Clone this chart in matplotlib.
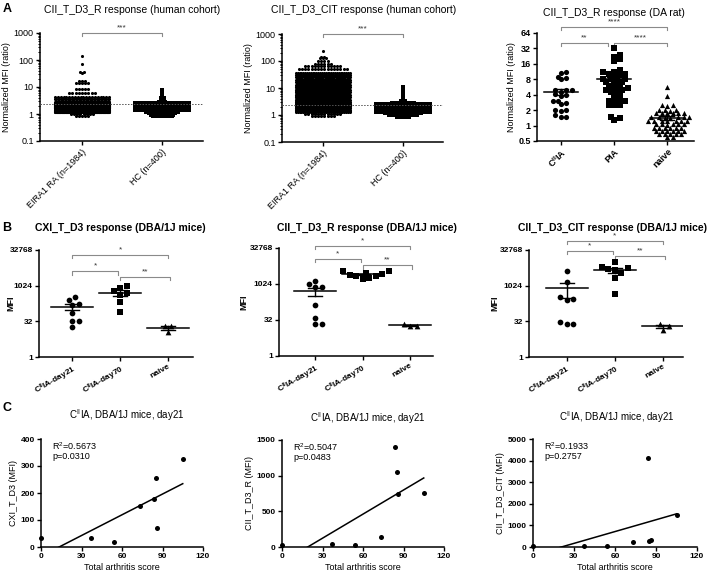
import numpy as np
import matplotlib
matplotlib.use('Agg')
import matplotlib.pyplot as plt
from matplotlib.ticker import NullLocator
from matplotlib.transforms import blended_transform_factory

plt.rcParams['font.family'] = ['Liberation Sans', 'DejaVu Sans']
plt.rcParams['mathtext.default'] = 'regular'

# ---- panel A, human cohort: each row = (value, number of points in that row)
a1_ra_vals = [140, 70, 36, 34, 16.6, 13.8, 8.7, 5.9, 4.4, 3.5, 2.8, 2.5, 2.2, 2.0, 1.8, 1.6, 1.45, 1.3, 1.2, 1.0, 0.85]
a1_ra_n = [1, 1, 2, 1, 3, 5, 5, 9, 20, 40, 100, 200, 264, 280, 280, 260, 200, 150, 150, 8, 5]
a1_hc_vals = [7.8, 7, 6, 5.2, 4.2, 3.8, 3.2, 2.9, 2.5, 2.2, 2.0, 1.8, 1.65, 1.5, 1.4, 1.2, 1.07, 0.95, 0.85]
a1_hc_n = [1, 1, 1, 1, 1, 2, 2, 3, 25, 50, 65, 65, 60, 50, 38, 11, 9, 8, 7]

a2_ra_vals = [235, 140, 125, 100, 80, 65, 49, 37, 30, 25, 20, 16, 13, 10.5, 8.5, 7, 5.7, 4.6, 3.7,
              3.0, 2.5, 2.1, 1.8, 1.55, 1.4, 1.25, 1.1, 0.95]
a2_ra_n = [1, 2, 3, 4, 6, 12, 16, 30, 40, 50, 60, 70, 80, 90, 100, 110, 120, 130, 140,
           150, 160, 230, 140, 120, 70, 30, 12, 8]
a2_hc_vals = [10.7, 9, 6.3, 5.5, 4.2, 3.9, 3.3, 2.9, 2.5, 2.2, 2.0, 1.8, 1.6, 1.45, 1.3, 1.15, 1.0, 0.85]
a2_hc_n = [1, 1, 1, 1, 1, 1, 2, 8, 30, 50, 62, 65, 65, 55, 30, 12, 10, 5]

a_groups = ['EIRA1 RA (n=1984)', 'HC (n=400)']
cutoff = 2.4

# ---- panel A, DA rat
rat_groups = ['C$^{II}$IA', 'PIA', 'naive']
rat_cia = [11, 10.5, 9, 8.5, 8, 5, 5, 5, 4.5, 4.2, 4, 3.8, 3, 3, 2.8, 2.6, 2, 2, 1.9, 1.6, 1.5, 1.5]
rat_pia = [32, 24, 22, 20, 18, 12, 11, 11, 10, 10, 9.5, 9, 8, 8, 8, 7.5, 7, 7, 6.5, 6, 6, 5.5, 5.5,
           5, 5, 4.5, 4.5, 4, 4, 3.5, 3, 3, 3, 3, 2.5, 2.5, 2.5, 1.5, 1.4, 1.3]
rat_naive = [5.7, 3.7, 2.5, 2.5, 2.45, 2.0, 2.0, 2.0, 1.95, 1.75, 1.75, 1.74, 1.74, 1.72, 1.72,
             1.45, 1.45, 1.45, 1.44, 1.44, 1.43, 1.43, 1.25, 1.25, 1.25, 1.24, 1.24, 1.23, 1.23,
             1.06, 1.06, 1.06, 1.05, 1.05, 1.04, 0.91, 0.91, 0.91, 0.9, 0.9, 0.9, 0.8, 0.8, 0.8,
             0.79, 0.79, 0.78, 0.69, 0.69, 0.69, 0.68, 0.68, 0.59, 0.59]

# ---- panels B and C, DBA/1J mice
mice_groups = ['C$^{II}$IA-day21', 'C$^{II}$IA-day70', 'naive']
score = [0, 37, 54, 73, 84, 85, 86, 105]
cxi_d21 = [33, 33, 18, 152, 177, 257, 70, 327]
cxi_d70 = [1000, 850, 600, 500, 400, 200, 80]
cxi_naive = [20, 20, 11]
r_d21 = [22, 40, 22, 140, 1400, 1050, 750, 760]
r_d70 = [3500, 3500, 3000, 2800, 2500, 2200, 2200, 1800, 1700]
r_naive = [22, 18, 18]
cit_d21 = [25, 30, 25, 250, 4100, 280, 330, 1480]
cit_d70 = [10000, 6000, 5500, 5000, 4500, 3500, 2200, 450]
cit_naive = [25, 20, 14]
c_stats = ['R$^2$=0.5673\np=0.0310', 'R$^2$=0.5047\np=0.0483', 'R$^2$=0.1933\np=0.2757']

W, H = 708, 576
fig = plt.figure(figsize=(W / 100, H / 100), dpi=100)


def add_ax(l, r, t, b):
    ax = fig.add_axes([l / W, 1 - b / H, (r - l) / W, (b - t) / H])
    for s in ['top', 'right']:
        ax.spines[s].set_visible(False)
    for s in ['left', 'bottom']:
        ax.spines[s].set_linewidth(1.1)
    ax.tick_params(direction='out', length=3, width=1, pad=1.5, labelsize=6.5)
    ax.tick_params(which='minor', length=1.8, width=0.7)
    return ax


def px_per_unit(ax):
    x0, x1 = ax.get_xlim()
    return ax.get_position().width * W / (x1 - x0)


def rows(ax, xc, vals, counts, marker, sp=3.2, cap=27):
    ppu = px_per_unit(ax)
    xs, ys = [], []
    for v, n in zip(vals, counts):
        w = min((n - 1) * sp / 2, cap)
        xs.extend(xc + np.linspace(-w, w, n) / ppu)
        ys.extend([v] * n)
    ax.scatter(xs, ys, s=5, marker=marker, c='k', lw=0, clip_on=False, zorder=3)


def swarm(ax, xc, vals, marker, d, s, k_ov=0.9):
    vals = np.asarray(vals, float)
    ypx = ax.transData.transform(np.column_stack([np.zeros(len(vals)), vals]))[:, 1]
    cands = [0.0]
    for k in range(1, 40):
        cands += [k * d * 0.5, -k * d * 0.5]
    offs = np.zeros(len(vals))
    px, py = [], []
    for i in np.argsort(ypx):
        for c in cands:
            if all((c - x) ** 2 + (ypx[i] - y) ** 2 >= k_ov * d * d for x, y in zip(px, py)):
                break
        offs[i] = c
        px.append(c)
        py.append(ypx[i])
    ax.scatter(xc + offs / px_per_unit(ax), vals, s=s, marker=marker, c='k', lw=0, clip_on=False, zorder=3)


def mean_sem(ax, xc, vals, mw, cw):
    ppu = px_per_unit(ax)
    m = np.mean(vals)
    se = np.std(vals, ddof=1) / np.sqrt(len(vals))
    ax.plot([xc - mw / ppu, xc + mw / ppu], [m, m], color='k', lw=1.1, zorder=4)
    ax.plot([xc, xc], [m - se, m + se], color='k', lw=1, zorder=4)
    for y in [m - se, m + se]:
        ax.plot([xc - cw / ppu, xc + cw / ppu], [y, y], color='k', lw=1, zorder=4)


def sigbar(ax, x1, x2, yf, label, tick=0.03):
    tr = blended_transform_factory(ax.transData, ax.transAxes)
    ax.plot([x1, x1, x2, x2], [yf - tick, yf, yf, yf - tick], color='#8a8a8a', lw=0.8,
            transform=tr, clip_on=False)
    ax.text((x1 + x2) / 2, yf + 0.015, label, transform=tr, ha='center', va='bottom',
            fontsize=6, color='#333333')


def ftext(x, y, s, **kw):
    fig.text(x / W, 1 - y / H, s, ha='center', va='center', **kw)


# ---------------- panel A, human cohort
human = [
    (40, 203, 33, 141, (-0.525, 1.51), a1_ra_vals, a1_ra_n, a1_hc_vals, a1_hc_n),
    (282, 443, 34, 142, (-0.51, 1.5), a2_ra_vals, a2_ra_n, a2_hc_vals, a2_hc_n),
]
for l, r, t, b, xl, rv, rn, hv, hn in human:
    ax = add_ax(l, r, t, b)
    ax.set_yscale('log')
    ax.set_ylim(0.1, 1000)
    ax.set_xlim(*xl)
    ax.set_yticks([0.1, 1, 10, 100, 1000])
    ax.set_yticklabels(['0.1', '1', '10', '100', '1000'])
    ax.set_xticks([0, 1])
    ax.set_xticklabels(a_groups, rotation=45, ha='right', rotation_mode='anchor')
    ax.set_ylabel('Normalized MFI (ratio)', fontsize=6.5, labelpad=2)
    ax.axhline(cutoff, ls=(0, (1.5, 1.5)), color='#555555', lw=0.7, zorder=5)
    rows(ax, 0, rv, rn, 'o')
    rows(ax, 1, hv, hn, 's')
    sigbar(ax, 0, 1, 1.0, '***')

ftext(132, 10, 'CII_T_D3_R response (human cohort)', fontsize=7.5)
ftext(364, 10, 'CII_T_D3_CIT response (human cohort)', fontsize=7.5)

# ---------------- panel A, DA rat
ax = add_ax(537, 694, 33, 141)
ax.set_yscale('log', base=2)
ax.set_ylim(0.5, 64)
ax.set_xlim(-0.45, 2.5)
ax.yaxis.set_minor_locator(NullLocator())
ax.set_yticks([0.5, 1, 2, 4, 8, 16, 32, 64])
ax.set_yticklabels(['0.5', '1', '2', '4', '8', '16', '32', '64'], fontweight='bold')
ax.set_xticks([0, 1, 2])
ax.set_xticklabels(rat_groups, rotation=45, ha='right', rotation_mode='anchor', fontweight='bold')
ax.set_ylabel('Normalized MFI (ratio)', fontsize=6.5, labelpad=2)
for i, (vals, mk) in enumerate([(rat_cia, 'o'), (rat_pia, 's'), (rat_naive, '^')]):
    swarm(ax, i, vals, mk, 5.5, 14, k_ov=0.45)
    mean_sem(ax, i, vals, 17, 7)
sigbar(ax, 0, 2, 1.056, '****')
sigbar(ax, 0, 0.88, 0.907, '**')
sigbar(ax, 1.0, 2.0, 0.907, '****')
ftext(614, 13, 'CII_T_D3_R response (DA rat)', fontsize=7.5)

# ---------------- panel B
b_specs = [
    (39, 193, 250, 357, (-0.69, 2.52), cxi_d21, cxi_d70, cxi_naive, (0.953, 0.80, 0.75), -0.156),
    (279, 433, 248, 356, (-0.76, 2.48), r_d21, r_d70, r_naive, (1.02, 0.90, 0.84), -0.2),
    (529, 683, 250, 357, (-0.79, 2.42), cit_d21, cit_d70, cit_naive, (1.084, 0.993, 0.944), -0.195),
]
b_titles = ['CXI_T_D3 response (DBA/1J mice)', 'CII_T_D3_R response (DBA/1J mice)',
            'CII_T_D3_CIT response (DBA/1J mice)']
b_tx = [120, 367, 612]
for k, (l, r, t, b, xl, g1, g2, g3, sy, lx) in enumerate(b_specs):
    ax = add_ax(l, r, t, b)
    ax.set_yscale('log', base=2)
    ax.set_ylim(1, 32768)
    ax.set_xlim(*xl)
    ax.yaxis.set_minor_locator(NullLocator())
    ax.set_yticks([1, 32, 1024, 32768])
    ax.set_yticklabels(['1', '32', '1024', '32768'], fontweight='bold', fontsize=6)
    ax.set_xticks([0, 1, 2])
    ax.set_xticklabels(mice_groups, rotation=30, ha='right', rotation_mode='anchor',
                       fontweight='bold', fontsize=6)
    ax.set_ylabel('MFI', fontsize=6.5, fontweight='bold')
    ax.yaxis.set_label_coords(lx, 0.5)
    for i, (vals, mk) in enumerate([(g1, 'o'), (g2, 's'), (g3, '^')]):
        swarm(ax, i, vals, mk, 6.5, 17)
        mean_sem(ax, i, vals, 21, 7)
    sigbar(ax, 0, 2, sy[0], '*')
    sigbar(ax, 0, 0.96, sy[1], '*')
    sigbar(ax, 1.0, 2.04, sy[2], '**')
    ftext(b_tx[k], 228, b_titles[k], fontsize=7.5, fontweight='bold')

# ---------------- panel C
c_specs = [
    (41, 203, 439, 547, cxi_d21, 400, 100, 'CXI_T_D3 (MFI)', 127, 415),
    (282, 444, 440, 547, r_d21, 1500, 500, 'CII_T_D3_R (MFI)', 368, 418),
    (533, 697, 439, 547, cit_d21, 5000, 1000, 'CII_T_D3_CIT (MFI)', 617, 417),
]
for k, (l, r, t, b, yv, ytop, ystep, ylab, tx, ty) in enumerate(c_specs):
    ax = add_ax(l, r, t, b)
    ax.set_xlim(0, 120)
    ax.set_ylim(0, ytop)
    ax.set_xticks([0, 30, 60, 90, 120])
    ax.set_yticks(np.arange(0, ytop + 1, ystep))
    for lab in ax.get_xticklabels() + ax.get_yticklabels():
        lab.set_fontweight('bold')
        lab.set_fontsize(6)
    ax.scatter(score, yv, s=13, c='k', lw=0, clip_on=False, zorder=3)
    p = np.polyfit(score, yv, 1)
    xx = np.array([0, max(score)])
    ax.plot(xx, np.polyval(p, xx), color='k', lw=1.1)
    ax.set_xlabel('Total arthritis score', fontsize=6.5, labelpad=2)
    ax.set_ylabel(ylab, fontsize=6.5, labelpad=2)
    ax.text(0.07, 0.99, c_stats[k], transform=ax.transAxes, ha='left', va='top',
            fontsize=6.5, linespacing=1.1)
    ftext(tx, ty, 'C$^{II}$IA, DBA/1J mice, day21', fontsize=7)

ftext(7, 9, 'A', fontsize=9, fontweight='bold')
ftext(7, 228, 'B', fontsize=9, fontweight='bold')
ftext(7, 408, 'C', fontsize=9, fontweight='bold')

fig.savefig('out.png', dpi=100)
